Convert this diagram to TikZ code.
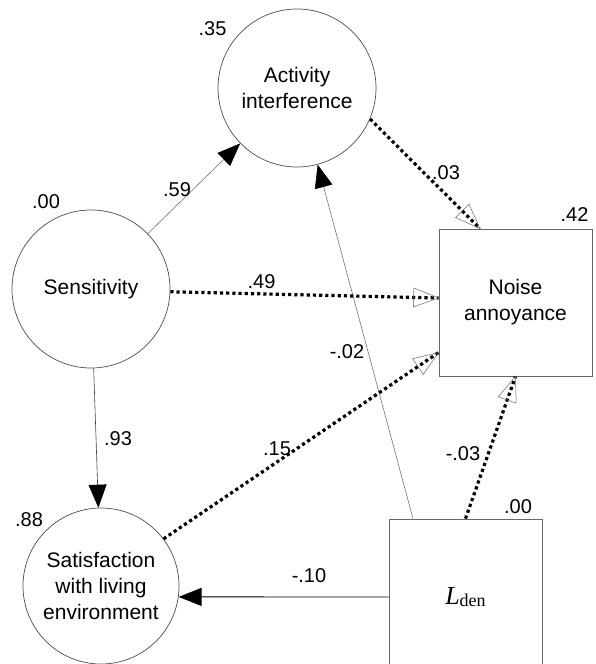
\documentclass[tikz,border=0pt]{standalone}
\usepackage{fontspec}
\setmainfont{Liberation Sans}
\newfontfamily\serifL{Liberation Serif}
\usetikzlibrary{arrows.meta,decorations.markings,calc}
\begin{document}
\begin{tikzpicture}[x=1pt,y=1pt,
  font=\fontsize{20}{25.5}\selectfont,
  latent/.style={circle, draw=black!70, line width=0.7pt, minimum size=158pt, inner sep=0pt, align=center, font=\fontsize{21}{26}\selectfont},
  observed/.style={rectangle, draw=black!60, line width=0.8pt, minimum width=153pt, align=center, inner sep=0pt, font=\fontsize{21}{26}\selectfont},
  solidpath/.style={line width=0.6pt, draw=black!55, -{Triangle[length=23pt,width=18pt,color=black]}},
  dotpath/.style={line width=3.2pt, dash pattern=on 3.2pt off 3pt, postaction={decorate},
    decoration={markings, mark=at position 1 with {\draw[solid, line width=0.5pt, draw=black!60] (0,0) -- (-25pt,9.5pt) -- (-25pt,-9.5pt) -- cycle;}}},
  lab/.style={inner sep=0pt}
]
\useasboundingbox (0,0) rectangle (595,-664);
\clip (0,0) rectangle (595,-664);

\node[latent] (A) at (297,-88) {Activity\\interference};
\node[latent] (S) at (91,-289) {Sensitivity};
\node[latent, minimum size=156pt] (F) at (101,-586) {\raisebox{0pt}[\height][\depth]{Satisfaction}\\with living\\environment};
\node[observed, minimum height=147pt] (N) at (515.5,-302.5) {Noise\\annoyance};
\node[observed, minimum height=156pt] (L) at (465.5,-597) {\serifL\fontsize{26}{26}\selectfont\textit{L}\fontsize{18}{18}\selectfont\raisebox{-2pt}{den}};

\draw[solidpath] (S) -- (A);
\draw[solidpath] ([xshift=-52.5pt]L.north) -- (A);
\draw[solidpath, draw=black!75] (S) -- (F);
\draw[solidpath, draw=black, line width=0.9pt] (L.west) -- (F.-8);

\draw[dotpath] (A.-23) -- ([xshift=-35.5pt]N.north);
\draw[dotpath] (S.-2) -- ([yshift=4.5pt]N.west);
\draw[dotpath] (F.37) -- ([yshift=-50pt]N.west);
\draw[dotpath] (L.north) -- (N.south);

\node[lab] (l35) at (212.5,-29) {.35};
\node[lab] (l00a) at (46,-202) {.00};
\node[lab] (l59) at (177,-190) {.59};
\node[lab] (l49) at (261.5,-282) {.49};
\node[lab] (l02) at (347,-352) {-.02};
\node[lab] (l15) at (277,-449) {.15};
\node[lab] (l03) at (446,-173) {.03};
\node[lab] (l42) at (574.5,-215) {.42};
\node[lab] (l93) at (118,-439) {.93};
\node[lab] (l88) at (29,-520) {.88};
\node[lab] (l10) at (309,-576) {-.10};
\node[lab] (l03b) at (463,-454) {-.03};
\node[lab] (l00b) at (518,-507) {.00};
\end{tikzpicture}
\end{document}
